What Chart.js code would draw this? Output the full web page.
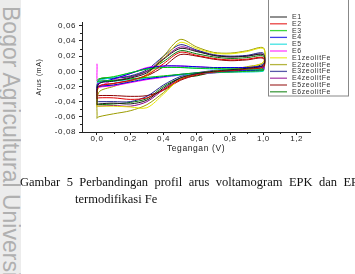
<!DOCTYPE html>
<html>
<head>
<meta charset="utf-8">
<script src="https://cdn.jsdelivr.net/npm/chart.js@4.4.0/dist/chart.umd.min.js"></script>
<style>
  html, body { margin: 0; padding: 0; background: #fff; overflow: hidden; }
  body { width: 355px; height: 274px; position: relative; }
  #watermark { position: absolute; left: 0; top: 0; width: 21px; height: 274px; background: #ececec; overflow: hidden; }
  #watermark span { position: absolute; left: 23px; top: 6px; transform-origin: 0 0; transform: rotate(90deg);
    font: 23px "Liberation Sans"; color: #b0b0b0; white-space: nowrap; line-height: 24px; }
  #cv { position: absolute; left: 0; top: 0; }
  .cap { position: absolute; font: 12.5px "Liberation Serif"; color: #111; line-height: 16px; }
  #cap1 { left: 20px; top: 174px; width: 347px; text-align: justify; text-align-last: justify; }
  #cap2 { left: 75px; top: 191px; }
</style>
</head>
<body>
<div id="watermark"><span>Bogor Agricultural University</span></div>
<canvas id="cv" width="355" height="274"></canvas>
<div class="cap" id="cap1">Gambar 5 Perbandingan profil arus voltamogram EPK dan EPK</div>
<div class="cap" id="cap2">termodifikasi Fe</div>
<script>
// potensial (V): sapuan maju lalu balik
const potentialFwd = [0, 0.01, 0.1, 0.2, 0.3, 0.4, 0.5, 0.6, 0.7, 0.8, 0.9, 1.0];
const potentialRev = [1.0, 0.9, 0.8, 0.7, 0.6, 0.5, 0.4, 0.3, 0.2, 0.1, 0.01, 0];

// arus (mA), 12 titik maju + 12 titik balik
const E1 = [-0.044, -0.017, -0.013, -0.009, -0.002, 0.016, 0.030, 0.026, 0.021, 0.019, 0.020, 0.022,
            0.008, 0.004, 0.002, 0.000, -0.003, -0.009, -0.022, -0.038, -0.043, -0.042, -0.043, -0.044];
const E2 = [-0.036, -0.020, -0.016, -0.012, -0.005, 0.010, 0.025, 0.021, 0.017, 0.015, 0.016, 0.018,
            0.006, 0.003, 0.001, -0.001, -0.004, -0.011, -0.024, -0.035, -0.037, -0.035, -0.035, -0.036];
const E3 = [-0.012, -0.010, -0.007, -0.002, 0.003, 0.005, 0.005, 0.004, 0.004, 0.003, 0.003, 0.003,
            0.001, 0.000, -0.001, -0.001, -0.002, -0.004, -0.006, -0.008, -0.010, -0.012, -0.013, -0.014];
const E4 = [-0.022, -0.016, -0.010, -0.003, 0.004, 0.007, 0.007, 0.006, 0.005, 0.005, 0.005, 0.006,
            0.002, 0.001, 0.000, -0.001, -0.002, -0.004, -0.007, -0.010, -0.014, -0.018, -0.020, -0.022];
const E5 = [-0.015, -0.012, -0.008, -0.002, 0.003, 0.005, 0.005, 0.004, 0.003, 0.003, 0.002, 0.002,
            0.000, -0.001, -0.001, -0.002, -0.003, -0.005, -0.007, -0.009, -0.011, -0.013, -0.014, -0.015];
const E6 = [0.010, -0.018, -0.011, -0.003, 0.005, 0.007, 0.007, 0.006, 0.005, 0.005, 0.005, 0.005,
            0.001, 0.000, -0.001, -0.002, -0.003, -0.005, -0.008, -0.011, -0.015, -0.019, -0.021, -0.023];
const E1zeolitFe = [-0.046, -0.022, -0.018, -0.014, -0.006, 0.016, 0.038, 0.030, 0.024, 0.023, 0.026, 0.030,
                    0.012, 0.005, 0.002, 0.000, -0.003, -0.010, -0.030, -0.048, -0.047, -0.046, -0.046, -0.046];
const E2zeolitFe = [-0.062, -0.028, -0.020, -0.013, -0.004, 0.020, 0.042, 0.032, 0.025, 0.024, 0.027, 0.031,
                    0.012, 0.006, 0.003, 0.000, -0.003, -0.010, -0.028, -0.044, -0.052, -0.056, -0.060, -0.062];
const E3zeolitFe = [-0.040, -0.012, -0.009, -0.006, 0.002, 0.020, 0.035, 0.028, 0.022, 0.020, 0.021, 0.024,
                    0.010, 0.005, 0.003, 0.001, -0.002, -0.007, -0.018, -0.033, -0.040, -0.040, -0.040, -0.040];
const E4zeolitFe = [-0.046, -0.015, -0.012, -0.008, 0.000, 0.017, 0.032, 0.027, 0.021, 0.019, 0.020, 0.022,
                    0.008, 0.004, 0.002, 0.000, -0.003, -0.009, -0.024, -0.040, -0.046, -0.045, -0.046, -0.046];
const E5zeolitFe = [-0.033, -0.020, -0.016, -0.012, -0.006, 0.006, 0.022, 0.020, 0.016, 0.014, 0.015, 0.017,
                    0.004, 0.002, 0.000, -0.002, -0.005, -0.012, -0.025, -0.032, -0.033, -0.032, -0.032, -0.033];
const E6zeolitFe = [-0.044, -0.011, -0.009, -0.007, 0.000, 0.013, 0.027, 0.023, 0.019, 0.017, 0.018, 0.020,
                    0.006, 0.003, 0.001, -0.001, -0.006, -0.009, -0.020, -0.036, -0.041, -0.043, -0.044, -0.044];

const seriesNames = ['E1', 'E2', 'E3', 'E4', 'E5', 'E6',
  'E1zeolitFe', 'E2zeolitFe', 'E3zeolitFe', 'E4zeolitFe', 'E5zeolitFe', 'E6zeolitFe'];
const seriesData = [E1, E2, E3, E4, E5, E6,
  E1zeolitFe, E2zeolitFe, E3zeolitFe, E4zeolitFe, E5zeolitFe, E6zeolitFe];
const seriesColors = ['#1a1a1a', '#e00000', '#00c800', '#0000e0', '#00d8d8', '#ff00ff',
  '#e6e600', '#9c9c00', '#20208c', '#8c008c', '#8c0000', '#007800'];

const xTicks = [0, 0.2, 0.4, 0.6, 0.8, 1.0, 1.2];
const xMinor = [0.1, 0.3, 0.5, 0.7, 0.9, 1.1];
const yTicks = [-0.08, -0.06, -0.04, -0.02, 0, 0.02, 0.04, 0.06];
const yMinor = [-0.07, -0.05, -0.03, -0.01, 0.01, 0.03, 0.05];

const potential = potentialFwd.concat(potentialRev);

const spacing = {
  id: 'spacing',
  beforeDraw(chart) { chart.ctx.letterSpacing = '0.6px'; }
};

const minorTicks = {
  id: 'minorTicks',
  afterDraw(chart) {
    const { ctx, scales: { x, y } } = chart;
    ctx.save();
    ctx.strokeStyle = '#222';
    ctx.lineWidth = 1;
    ctx.beginPath();
    xMinor.forEach(v => {
      const px = Math.round(x.getPixelForValue(v)) + 0.5;
      ctx.moveTo(px, y.bottom);
      ctx.lineTo(px, y.bottom + 2);
    });
    yMinor.forEach(v => {
      const py = Math.round(y.getPixelForValue(v)) + 0.5;
      ctx.moveTo(x.left, py);
      ctx.lineTo(x.left - 2, py);
    });
    ctx.stroke();
    ctx.restore();
  }
};

const boxLegend = {
  id: 'boxLegend',
  afterDraw(chart) {
    const ctx = chart.ctx;
    ctx.save();
    ctx.fillStyle = '#fff';
    ctx.fillRect(268, -2, 80, 98);
    ctx.strokeStyle = '#888';
    ctx.lineWidth = 1;
    ctx.strokeRect(268.5, -2.5, 80, 98.5);
    ctx.font = '7px "Liberation Sans"';
    ctx.textBaseline = 'middle';
    chart.data.datasets.forEach((ds, i) => {
      const yy = 17 + i * 6.8;
      ctx.globalAlpha = 0.75;
      ctx.strokeStyle = ds.borderColor;
      ctx.lineWidth = 1.3;
      ctx.beginPath();
      ctx.moveTo(270, yy);
      ctx.lineTo(287, yy);
      ctx.stroke();
      ctx.globalAlpha = 1;
      ctx.fillStyle = '#333';
      ctx.fillText(ds.label, 292, yy);
    });
    ctx.restore();
  }
};

new Chart(document.getElementById('cv'), {
  type: 'scatter',
  data: {
    datasets: seriesNames.map((name, i) => ({
      label: name,
      data: potential.map((v, j) => ({ x: v, y: seriesData[i][j] })),
      borderColor: seriesColors[i],
      backgroundColor: seriesColors[i],
      showLine: true,
      borderWidth: 1,
      tension: 0.3,
      pointRadius: 0
    }))
  },
  options: {
    responsive: false,
    animation: false,
    layout: { padding: { left: 0, top: 22, right: 45, bottom: 118 } },
    plugins: { legend: { display: false }, tooltip: { enabled: false } },
    scales: {
      x: {
        type: 'linear',
        min: -0.09,
        max: 1.28,
        afterBuildTicks: s => { s.ticks = xTicks.map(v => ({ value: v })); },
        afterFit: s => { s.height = 24; },
        ticks: {
          font: { family: 'Liberation Sans', size: 8 },
          color: '#222',
          padding: -1,
          maxRotation: 0,
          autoSkip: false,
          callback: v => v.toFixed(1).replace('.', ',')
        },
        grid: { drawOnChartArea: false, tickLength: 3, color: '#222' },
        border: { color: '#222' },
        title: {
          display: true, text: 'Tegangan (V)', color: '#222',
          font: { family: 'Liberation Sans', size: 8.5 },
          padding: { top: 0, bottom: 2 }
        }
      },
      y: {
        type: 'linear',
        min: -0.08,
        max: 0.065,
        afterBuildTicks: s => { s.ticks = yTicks.map(v => ({ value: v })); },
        afterFit: s => { s.width = 82; },
        ticks: {
          font: { family: 'Liberation Sans', size: 8 },
          color: '#222',
          padding: 3,
          autoSkip: false,
          callback: v => v.toFixed(2).replace('.', ',')
        },
        grid: { drawOnChartArea: false, tickLength: 3, color: '#222' },
        border: { color: '#222' },
        title: {
          display: true, text: 'Arus (mA)', color: '#222',
          font: { family: 'Liberation Sans', size: 7 },
          padding: { top: 35, bottom: 0 }
        }
      }
    }
  },
  plugins: [spacing, minorTicks, boxLegend]
});
</script>
</body>
</html>
